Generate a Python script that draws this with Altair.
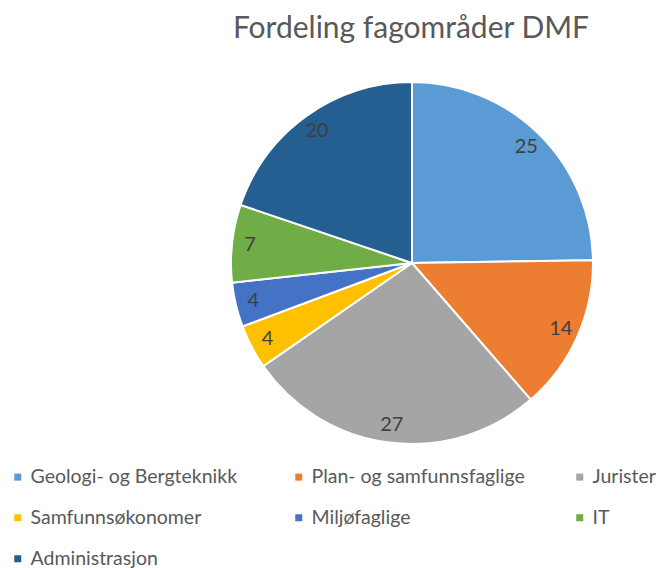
import altair as alt
import pandas as pd

categories = ["Geologi- og Bergteknikk", "Plan- og samfunnsfaglige", "Jurister",
              "Samfunnsøkonomer", "Miljøfaglige", "IT", "Administrasjon"]
values = [25, 14, 27, 4, 4, 7, 20]
colors = ["#5B9BD5", "#ED7D31", "#A5A5A5", "#FFC000", "#4472C4", "#70AD47", "#255E91"]

df = pd.DataFrame({"cat": categories, "value": values, "idx": list(range(len(values)))})

FONT = "Lato"
CX, CY, R = 412, 213, 181

base = alt.Chart(df).encode(
    theta=alt.Theta("value:Q", stack=True),
    order=alt.Order("idx:Q"),
)

arcs = base.mark_arc(outerRadius=R, stroke="white", strokeWidth=2).encode(
    x=alt.value(CX), y=alt.value(CY),
    color=alt.Color(
        "cat:N",
        scale=alt.Scale(domain=categories, range=colors),
        sort=categories,
        legend=alt.Legend(
            title=None, orient="none", legendX=8, legendY=417, columns=3,
            direction="horizontal",
            gridAlign="all", symbolType="square", symbolSize=49,
            symbolStrokeWidth=0, labelFont=FONT, labelFontSize=19.5,
            labelColor="#595959", labelLimit=400, labelOffset=3,
            rowPadding=20, columnPadding=45,
        ),
    ),
)

labels = base.mark_text(radius=163, font=FONT, fontSize=20, color="#404040").encode(
    x=alt.value(CX), y=alt.value(CY), text="value:Q"
)

chart = alt.layer(arcs, labels).properties(
    width=662, height=518,
    background="white",
    autosize=alt.AutoSizeParams(type="none"),
    padding={"left": 0, "top": 50, "right": 0, "bottom": 0},
    title=alt.TitleParams("Fordeling fagområder DMF", font=FONT, fontSize=30,
                          fontWeight="normal", color="#595959", anchor="middle",
                          dx=80, offset=6),
).configure_view(stroke="transparent", strokeWidth=0)

chart.save("out.html", embed_options={"renderer": "svg", "actions": False})
